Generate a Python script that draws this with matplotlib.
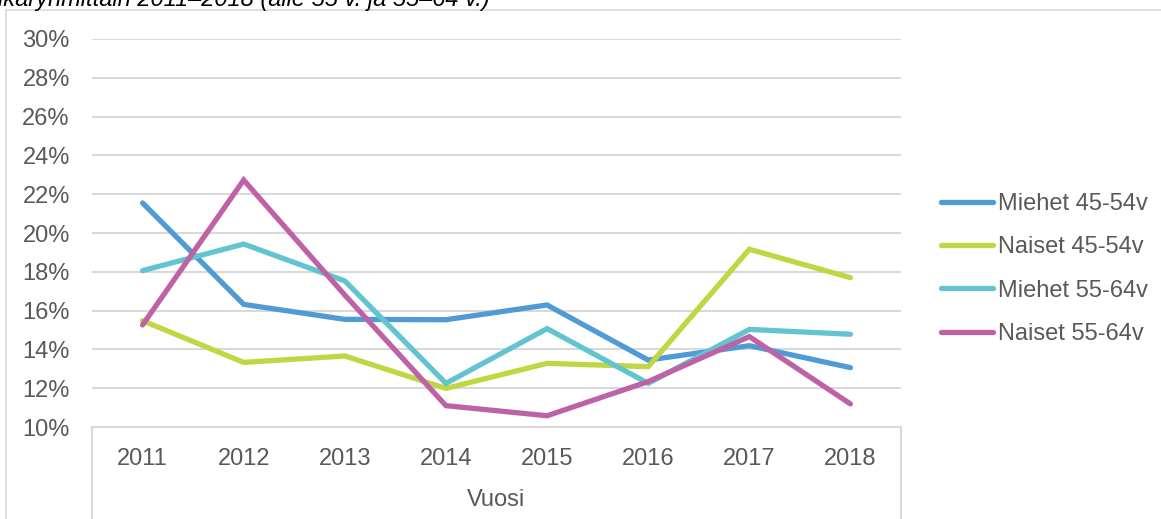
import matplotlib
matplotlib.use('Agg')
import matplotlib.pyplot as plt
from matplotlib.patches import Rectangle
from matplotlib.lines import Line2D

# Data (share, %)
years = ['2011', '2012', '2013', '2014', '2015', '2016', '2017', '2018']
miehet_45_54 = [21.55, 16.32, 15.55, 15.53, 16.29, 13.45, 14.19, 13.06]
naiset_45_54 = [15.48, 13.33, 13.66, 11.99, 13.28, 13.11, 19.16, 17.70]
miehet_55_64 = [18.06, 19.43, 17.53, 12.25, 15.07, 12.25, 15.03, 14.78]
naiset_55_64 = [15.26, 22.73, 16.80, 11.10, 10.58, 12.34, 14.66, 11.19]

series_labels = ['Miehet 45-54v', 'Naiset 45-54v', 'Miehet 55-64v', 'Naiset 55-64v']
series_colors = ['#509BD5', '#BED743', '#62C4D0', '#BE62A8']
yticks = list(range(10, 31, 2))

title_text = 'ikäryhmittäin 2011–2018 (alle 55 v. ja 55–64 v.)'
x_label = 'Vuosi'

plt.rcParams['font.family'] = ['Liberation Sans', 'DejaVu Sans']
TXT = '#595959'
GRID = '#D9D9D9'
FS = 17
W, H = 1161, 519

fig = plt.figure(figsize=(W / 100, H / 100), dpi=100)

# outer chart frame (left + top visible only)
fig.patches.append(Rectangle((6 / W, -0.1), 1.2, (H - 10) / H + 0.1,
                             transform=fig.transFigure, fill=False,
                             edgecolor=GRID, linewidth=1.2))

# cut-off title from the document above the chart
fig.text(-2 / W, 1 - 6 / H, title_text, fontsize=FS, style='italic',
         color='black', ha='left', va='baseline')

ax = fig.add_axes([92 / W, 1 - 427 / H, (901 - 92) / W, (427 - 39) / H])

x = range(len(years))
all_series = [miehet_45_54, naiset_45_54, miehet_55_64, naiset_55_64]
for vals, lab, col in zip(all_series, series_labels, series_colors):
    ax.plot(x, vals, color=col, linewidth=3.8, label=lab,
            solid_capstyle='round', solid_joinstyle='miter', zorder=3)

ax.set_xlim(-0.5, len(years) - 0.5)
ax.set_ylim(10, 30)
ax.set_yticks(yticks)
ax.set_yticklabels([f'{v}%' for v in yticks])
ax.set_xticks(list(x))
ax.set_xticklabels(years)
ax.tick_params(axis='both', length=0, labelsize=FS, colors=TXT)
ax.tick_params(axis='y', pad=16)
ax.tick_params(axis='x', pad=15)

ax.grid(axis='y', color=GRID, linewidth=1.5)
ax.set_axisbelow(True)
for s in ['top', 'right', 'left']:
    ax.spines[s].set_visible(False)
ax.spines['bottom'].set_color(GRID)
ax.spines['bottom'].set_linewidth(1.5)

# category box below the axis
for xe in [-0.5, len(years) - 0.5]:
    ax.add_line(Line2D([xe, xe], [10, 0], color=GRID, linewidth=1.5,
                       clip_on=False))

ax.set_xlabel(x_label, fontsize=FS, color=TXT, labelpad=14)

fig.legend(loc='center left', bbox_to_anchor=(932 / W, 1 - 269 / H),
           frameon=False, fontsize=FS, labelcolor=TXT, handlelength=2.2,
           handletextpad=0.2, labelspacing=0.9, borderaxespad=0)

fig.savefig('out.png', dpi=100)
